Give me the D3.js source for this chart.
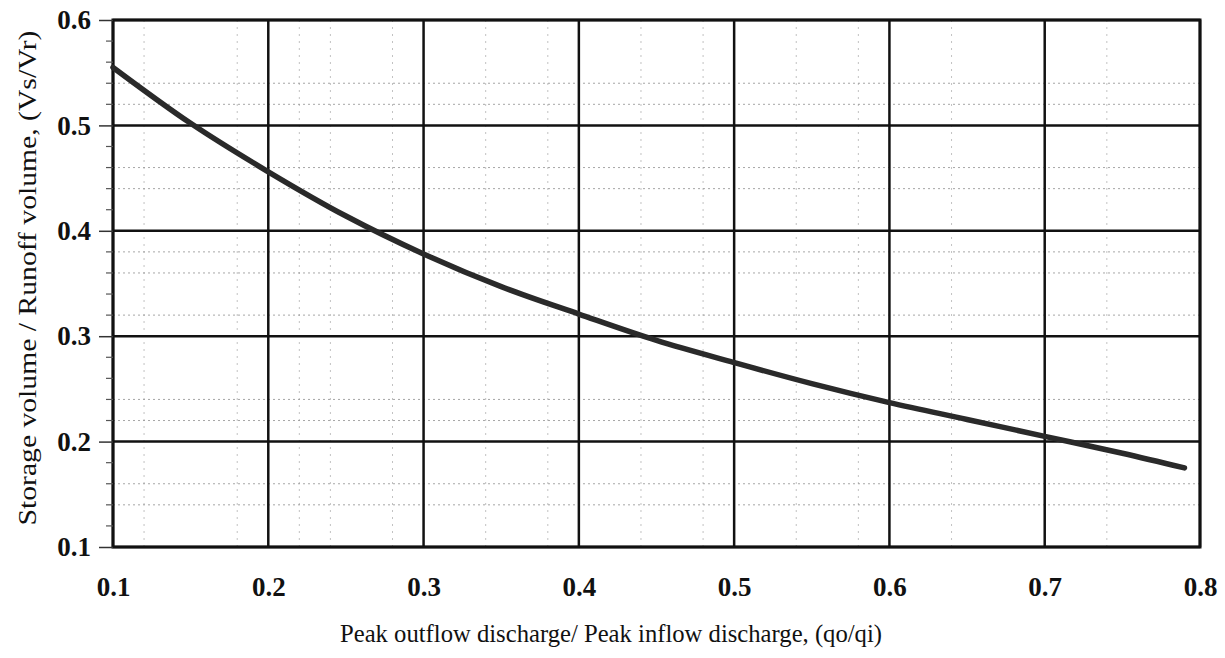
<!DOCTYPE html>
<html>
<head>
<meta charset="utf-8">
<script src="https://cdn.jsdelivr.net/npm/d3@7"></script>
<style>
  html, body { margin: 0; padding: 0; background: #fff; }
  svg { display: block; }
</style>
</head>
<body>
<svg id="chart" width="1225" height="658"></svg>
<script>
// ---- data ----
const qoqi = [0.10, 0.15, 0.20, 0.25, 0.30, 0.35, 0.40, 0.45, 0.50, 0.55, 0.60, 0.65, 0.70, 0.75, 0.79];
const vsvr = [0.555, 0.502, 0.456, 0.414, 0.378, 0.347, 0.321, 0.296, 0.275, 0.255, 0.237, 0.221, 0.205, 0.189, 0.175];
const xTicks = [0.1, 0.2, 0.3, 0.4, 0.5, 0.6, 0.7, 0.8];
const yTicks = [0.1, 0.2, 0.3, 0.4, 0.5, 0.6];
const yMinorTicks = [0.12, 0.14, 0.16, 0.18, 0.22, 0.24, 0.26, 0.28, 0.32, 0.34, 0.36, 0.38, 0.42, 0.44, 0.46, 0.48, 0.52, 0.54, 0.56, 0.58];
const yDotted = [0.14, 0.16, 0.22, 0.24, 0.32, 0.36, 0.38, 0.44, 0.46, 0.52, 0.54];
const xDotted = [0.12, 0.18, 0.22, 0.24, 0.28, 0.34, 0.38, 0.44, 0.48, 0.54, 0.58, 0.64, 0.74];
const xTitle = "Peak outflow discharge/ Peak inflow discharge, (qo/qi)";
const yTitle = "Storage volume / Runoff volume, (Vs/Vr)";

// ---- layout ----
const svg = d3.select("#chart");
const x = d3.scaleLinear().domain([0.1, 0.8]).range([113, 1200]);
const y = d3.scaleLinear().domain([0.1, 0.6]).range([547, 20]);
const serif = "'Liberation Serif', 'Times New Roman', serif";

// faint dotted graph-paper lines
svg.append("g").selectAll("line").data(yDotted).join("line")
  .attr("x1", x(0.1)).attr("x2", x(0.8))
  .attr("y1", d => y(d)).attr("y2", d => y(d))
  .attr("stroke", "#8a8a8a").attr("stroke-width", 1)
  .attr("stroke-dasharray", "2,3").attr("opacity", 0.75);
svg.append("g").selectAll("line").data(xDotted).join("line")
  .attr("x1", d => x(d)).attr("x2", d => x(d))
  .attr("y1", y(0.1)).attr("y2", y(0.6))
  .attr("stroke", "#9a9a9a").attr("stroke-width", 1)
  .attr("stroke-dasharray", "2,5").attr("opacity", 0.6);

// major grid
svg.append("g").selectAll("line").data(yTicks).join("line")
  .attr("x1", x(0.1)).attr("x2", x(0.8))
  .attr("y1", d => y(d)).attr("y2", d => y(d))
  .attr("stroke", "#111").attr("stroke-width", 2.5);
svg.append("g").selectAll("line").data(xTicks).join("line")
  .attr("x1", d => x(d)).attr("x2", d => x(d))
  .attr("y1", y(0.1)).attr("y2", y(0.6))
  .attr("stroke", "#111").attr("stroke-width", 2.5);

// border
svg.append("rect")
  .attr("x", x(0.1)).attr("y", y(0.6))
  .attr("width", x(0.8) - x(0.1)).attr("height", y(0.1) - y(0.6))
  .attr("fill", "none").attr("stroke", "#111").attr("stroke-width", 3);

// y axis ticks (minor + major) and labels
const yAxis = d3.axisLeft(y).tickValues(yTicks).tickFormat(d3.format(".1f")).tickSize(14).tickPadding(8);
const gy = svg.append("g").attr("transform", `translate(${x(0.1)},0)`).call(yAxis);
gy.select(".domain").remove();
gy.selectAll(".tick line").attr("stroke", "#333").attr("stroke-width", 1.5);
gy.selectAll(".tick text")
  .attr("font-family", serif).attr("font-weight", "bold").attr("font-size", 27).attr("fill", "#111");
svg.append("g").selectAll("line").data(yMinorTicks).join("line")
  .attr("x1", x(0.1) - 7).attr("x2", x(0.1))
  .attr("y1", d => y(d)).attr("y2", d => y(d))
  .attr("stroke", "#555").attr("stroke-width", 1.2);

// x axis labels
const xAxis = d3.axisBottom(x).tickValues(xTicks).tickFormat(d3.format(".1f")).tickSize(0).tickPadding(30);
const gx = svg.append("g").attr("transform", `translate(0,${y(0.1)})`).call(xAxis);
gx.select(".domain").remove();
gx.selectAll(".tick text")
  .attr("font-family", serif).attr("font-weight", "bold").attr("font-size", 27).attr("fill", "#111");

// curve
const line = d3.line().x((d, i) => x(qoqi[i])).y(d => y(d)).curve(d3.curveCatmullRom);
svg.append("path").datum(vsvr)
  .attr("d", line)
  .attr("fill", "none").attr("stroke", "#2a2a2a").attr("stroke-width", 5.5)
  .attr("stroke-linecap", "round");

// titles
svg.append("text")
  .attr("x", 611).attr("y", 642)
  .attr("text-anchor", "middle")
  .attr("font-family", serif).attr("font-size", 26).attr("fill", "#111")
  .attr("textLength", 542).attr("lengthAdjust", "spacingAndGlyphs")
  .text(xTitle);
svg.append("text")
  .attr("transform", `translate(36,278) rotate(-90)`)
  .attr("text-anchor", "middle")
  .attr("font-family", serif).attr("font-size", 25).attr("fill", "#111")
  .attr("textLength", 495).attr("lengthAdjust", "spacingAndGlyphs")
  .text(yTitle);
</script>
</body>
</html>
